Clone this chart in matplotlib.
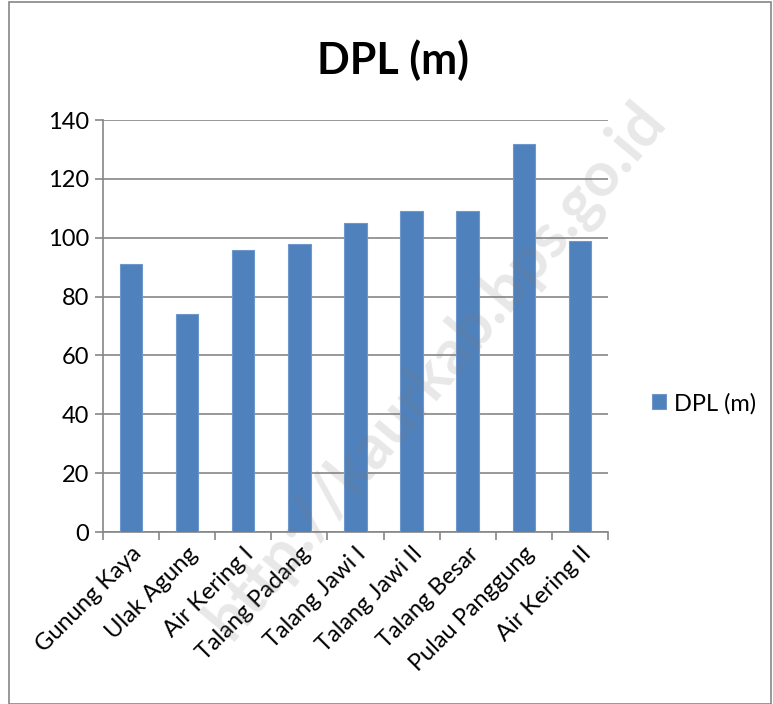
import matplotlib.pyplot as plt
from matplotlib.patches import Rectangle

# Data
villages = ["Gunung Kaya", "Ulak Agung", "Air Kering I", "Talang Padang",
            "Talang Jawi I", "Talang Jawi II", "Talang Besar",
            "Pulau Panggung", "Air Kering II"]
dpl = [91, 74, 96, 98, 105, 109, 109, 132, 99]
y_ticks = [0, 20, 40, 60, 80, 100, 120, 140]

plt.rcParams['font.family'] = ['Lato', 'DejaVu Sans']

fig = plt.figure(figsize=(7.73, 7.04), dpi=100)
ax = fig.add_axes([0.1332, 0.2443, 0.6533, 0.5852])

bar_color = "#4F81BD"
x = range(len(villages))
ax.bar(x, dpl, width=0.4, color=bar_color, edgecolor="#6F97CC", linewidth=0.8,
       label="DPL (m)", zorder=3)

ax.set_xlim(-0.5, len(villages) - 0.5)
ax.set_ylim(0, 140)
ax.set_yticks(y_ticks)
ax.tick_params(axis='y', labelsize=17, length=6, color="#868686", width=1.2, pad=4)

# category labels, ticks between categories
ax.set_xticks([i + 0.5 for i in range(-1, len(villages))], minor=False)
ax.set_xticklabels([])
ax.tick_params(axis='x', length=6, color="#868686", width=1.2)
ax.set_xticks(list(x), minor=True)
ax.set_xticklabels(villages, minor=True, rotation=45, ha='right',
                   rotation_mode='anchor', fontsize=17)
ax.tick_params(axis='x', which='minor', length=0, pad=8)

ax.grid(axis='y', color="#868686", linewidth=1.2, zorder=0)
for side in ["top", "right"]:
    ax.spines[side].set_visible(False)
for side in ["left", "bottom"]:
    ax.spines[side].set_color("#868686")
    ax.spines[side].set_linewidth(1.2)

fig.text(0.508, 0.915, "DPL (m)", ha='center', va='center', fontsize=31,
         fontweight='bold')

ax.legend(loc='center left', bbox_to_anchor=(0.843, 0.427),
          bbox_transform=fig.transFigure, frameon=False, fontsize=17,
          handlelength=0.6, handleheight=0.6, handletextpad=0.35,
          borderpad=0, borderaxespad=0)

# watermark
fig.text(0.563, 0.474, "http://kaurkab.bps.go.id", rotation=50, ha='center',
         va='center', fontsize=45, fontweight='bold', color='gray', alpha=0.18)

# outer chart border
fig.patches.append(Rectangle((0.011, 0.0), 0.986, 0.997, transform=fig.transFigure,
                             fill=False, edgecolor="#868686", linewidth=1.2))

fig.savefig("out.png", dpi=100)
